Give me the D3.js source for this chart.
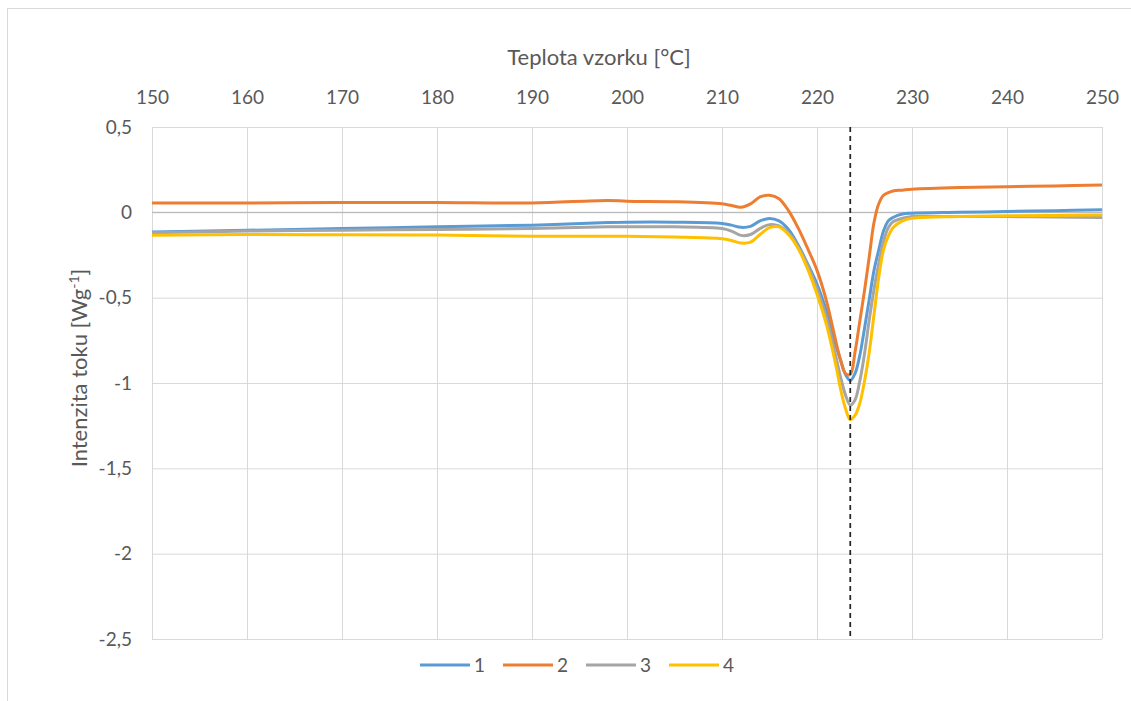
<!DOCTYPE html>
<html>
<head>
<meta charset="utf-8">
<script src="https://cdn.jsdelivr.net/npm/d3@7"></script>
<style>
  body { margin: 0; background: #fff; }
  text { font-family: Lato, "Open Sans", sans-serif; fill: #595959; }
</style>
</head>
<body>
<div id="chart"></div>
<script>
// temperature samples [°C]
var temps = [150, 160, 170, 180, 190, 198, 200, 205, 210, 211, 212, 213, 214, 215, 216, 217, 218, 219, 220, 221, 222,
  222.5, 223, 223.5, 224, 224.5, 225, 225.5, 226, 226.5, 227, 227.5, 228, 229, 230, 235, 240, 245, 250];

var series1 = [-0.115, -0.105, -0.095, -0.085, -0.075, -0.06, -0.058, -0.058, -0.065, -0.075, -0.088, -0.082, -0.05, -0.036, -0.05, -0.10, -0.19, -0.30, -0.42, -0.58, -0.78,
  -0.87, -0.95, -0.985, -0.945, -0.84, -0.68, -0.51, -0.34, -0.22, -0.11, -0.05, -0.03, -0.01, -0.005, 0.0, 0.005, 0.01, 0.015];
var series2 = [0.055, 0.055, 0.058, 0.057, 0.055, 0.07, 0.065, 0.062, 0.05, 0.04, 0.03, 0.05, 0.09, 0.10, 0.08, 0.01, -0.09, -0.21, -0.34, -0.52, -0.76,
  -0.87, -0.945, -0.95, -0.82, -0.64, -0.46, -0.26, -0.06, 0.05, 0.10, 0.115, 0.125, 0.13, 0.135, 0.145, 0.15, 0.155, 0.16];
var series3 = [-0.12, -0.11, -0.105, -0.10, -0.095, -0.085, -0.085, -0.085, -0.095, -0.11, -0.135, -0.13, -0.095, -0.072, -0.08, -0.12, -0.20, -0.31, -0.45, -0.62, -0.85,
  -0.97, -1.07, -1.13, -1.10, -0.99, -0.83, -0.63, -0.45, -0.30, -0.17, -0.09, -0.055, -0.035, -0.025, -0.025, -0.025, -0.028, -0.03];
var series4 = [-0.135, -0.13, -0.132, -0.133, -0.14, -0.14, -0.14, -0.145, -0.155, -0.165, -0.18, -0.175, -0.13, -0.09, -0.085, -0.13, -0.21, -0.33, -0.48, -0.66, -0.90,
  -1.04, -1.15, -1.215, -1.19, -1.12, -0.99, -0.82, -0.60, -0.38, -0.22, -0.14, -0.09, -0.05, -0.035, -0.025, -0.02, -0.018, -0.015];

var seriesNames = ["1", "2", "3", "4"];
var seriesColors = ["#5b9bd5", "#ed7d31", "#a5a5a5", "#ffc000"];
var peakTemp = 223.5;

var xTicks = [150, 160, 170, 180, 190, 200, 210, 220, 230, 240, 250];
var yTicks = [0.5, 0, -0.5, -1, -1.5, -2, -2.5];

var W = 1131, H = 701,
  margin = { top: 127, right: 29, bottom: 62, left: 152 },
  width = W - margin.left - margin.right,
  height = H - margin.top - margin.bottom;

var svg = d3.select("#chart").append("svg")
  .attr("width", W)
  .attr("height", H);

// chart frame
svg.append("rect")
  .attr("x", 7.5).attr("y", 8.5)
  .attr("width", W + 20).attr("height", H + 20)
  .attr("fill", "none")
  .attr("stroke", "#d9d9d9");

var g = svg.append("g")
  .attr("transform", "translate(" + margin.left + "," + margin.top + ")");

var x = d3.scaleLinear().domain([150, 250]).range([0, width]);
var y = d3.scaleLinear().domain([-2.5, 0.5]).range([height, 0]);

// grid
g.append("g")
  .call(d3.axisBottom(x).tickValues(xTicks).tickSize(height).tickFormat(""))
  .call(a => a.select(".domain").remove())
  .call(a => a.selectAll(".tick line").attr("stroke", "#d9d9d9"));
g.append("g")
  .call(d3.axisLeft(y).tickValues(yTicks).tickSize(-width).tickFormat(""))
  .call(a => a.select(".domain").remove())
  .call(a => a.selectAll(".tick line").attr("stroke", "#d9d9d9"));

// zero line
g.append("line")
  .attr("x1", 0).attr("x2", width)
  .attr("y1", y(0)).attr("y2", y(0))
  .attr("stroke", "#b3b3b3");

// top axis labels
g.append("g")
  .call(d3.axisTop(x).tickValues(xTicks).tickSize(0).tickPadding(23))
  .call(a => a.select(".domain").remove())
  .selectAll("text")
  .style("font-size", "19px")
  .attr("fill", "#595959");

// left axis labels
g.append("g")
  .call(d3.axisLeft(y).tickValues(yTicks).tickSize(0).tickPadding(20)
    .tickFormat(d => String(d).replace(".", ",")))
  .call(a => a.select(".domain").remove())
  .selectAll("text")
  .style("font-size", "19px")
  .attr("fill", "#595959");

// axis titles
svg.append("text")
  .attr("x", 599)
  .attr("y", 65)
  .attr("text-anchor", "middle")
  .style("font-size", "22px")
  .text("Teplota vzorku [°C]");

var yt = svg.append("text")
  .attr("transform", "translate(87,368) rotate(-90)")
  .attr("text-anchor", "middle")
  .style("font-size", "22px");
yt.append("tspan").text("Intenzita toku [Wg");
yt.append("tspan").attr("dy", "-8").style("font-size", "14px").text("-1");
yt.append("tspan").attr("dy", "8").text("]");

// series lines
var allSeries = [series1, series2, series3, series4];
var line = d3.line()
  .x((d, i) => x(temps[i]))
  .y(d => y(d))
  .curve(d3.curveCatmullRom.alpha(0.5));

g.selectAll(".series")
  .data(allSeries)
  .join("path")
  .attr("class", "series")
  .attr("fill", "none")
  .attr("stroke", (d, i) => seriesColors[i])
  .attr("stroke-width", 3)
  .attr("stroke-linejoin", "round")
  .attr("d", line);

// peak marker
g.append("line")
  .attr("x1", x(peakTemp)).attr("x2", x(peakTemp))
  .attr("y1", 0).attr("y2", height)
  .attr("stroke", "#262626")
  .attr("stroke-width", 1.75)
  .attr("stroke-dasharray", "5,4");

// legend
var legend = svg.append("g")
  .attr("transform", "translate(420,665)");
var item = legend.selectAll("g")
  .data(seriesNames)
  .join("g")
  .attr("transform", (d, i) => "translate(" + i * 83 + ",0)");
item.append("line")
  .attr("x1", 0).attr("x2", 50)
  .attr("stroke", (d, i) => seriesColors[i])
  .attr("stroke-width", 3);
item.append("text")
  .attr("x", 54)
  .attr("dy", "0.35em")
  .style("font-size", "19px")
  .text(d => d);
</script>
</body>
</html>
